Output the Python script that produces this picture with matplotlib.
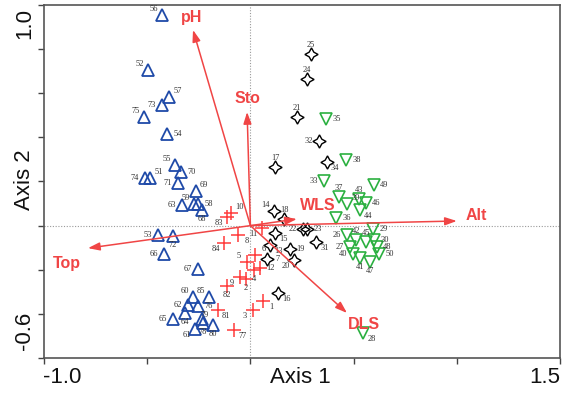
import matplotlib
matplotlib.use('Agg')
import matplotlib.pyplot as plt
from matplotlib.transforms import blended_transform_factory

# ---------------- data ----------------
blue_ids = [51, 52, 53, 54, 55, 56, 57, 58, 59, 60, 61, 62, 63, 64, 65, 66, 67, 68, 69, 70,
            71, 72, 73, 74, 75, 76, 78, 79, 80, 85]
blue_x = [-0.486, -0.496, -0.448, -0.404, -0.365, -0.428, -0.394, -0.254, -0.273, -0.278,
          -0.268, -0.302, -0.331, -0.317, -0.375, -0.419, -0.254, -0.234, -0.264, -0.336,
          -0.351, -0.375, -0.428, -0.511, -0.516, -0.254, -0.230, -0.234, -0.181, -0.201]
blue_y = [0.216, 0.705, -0.043, 0.415, 0.275, 0.955, 0.583, 0.098, 0.098, -0.324,
          -0.469, -0.360, 0.093, -0.396, -0.423, -0.129, -0.197, 0.071, 0.157, 0.243,
          0.193, -0.047, 0.547, 0.216, 0.492, -0.364, -0.442, -0.423, -0.451, -0.324]

red_ids = [1, 2, 3, 4, 5, 6, 8, 9, 10, 11, 12, 77, 81, 82, 83, 84]
red_x = [0.061, -0.021, 0.013, 0.017, -0.016, 0.022, -0.060, -0.050, -0.094, 0.056,
         0.047, -0.079, -0.157, -0.113, -0.113, -0.128]
red_y = [-0.342, -0.242, -0.383, -0.201, -0.165, -0.133, -0.043, -0.233, 0.057, -0.011,
         -0.192, -0.473, -0.383, -0.274, 0.039, -0.079]

black_ids = [7, 13, 14, 15, 16, 17, 18, 19, 20, 21, 22, 23, 24, 25, 31, 32, 34]
black_x = [0.080, 0.095, 0.114, 0.119, 0.134, 0.119, 0.163, 0.192, 0.211, 0.226,
           0.255, 0.274, 0.274, 0.294, 0.318, 0.332, 0.371]
black_y = [-0.151, -0.088, 0.066, -0.034, -0.306, 0.266, 0.030, -0.106, -0.156, 0.492,
           -0.015, -0.015, 0.665, 0.778, -0.074, 0.384, 0.288]

green_ids = [26, 27, 28, 29, 30, 33, 35, 36, 37, 38, 39, 40, 41, 42, 43, 44, 45, 46, 47,
             48, 49, 50]
green_x = [0.468, 0.483, 0.546, 0.594, 0.599, 0.357, 0.366, 0.415, 0.429, 0.463, 0.468,
           0.497, 0.531, 0.512, 0.526, 0.531, 0.560, 0.560, 0.579, 0.613, 0.599, 0.623]
green_y = [-0.043, -0.097, -0.487, -0.015, -0.065, 0.202, 0.483, 0.034, 0.130, 0.297,
           0.098, -0.129, -0.147, -0.065, 0.121, 0.071, -0.074, 0.102, -0.165, -0.097,
           0.184, -0.129]

env_names = ['pH', 'Sto', 'WLS', 'Alt', 'Top', 'DLS']
env_x = [-0.278, -0.016, 0.225, 1.000, -0.787, 0.468]
env_y = [0.887, 0.515, 0.030, 0.021, -0.102, -0.396]

# ---------------- style (label placement) ----------------
blue_pos = ['ur', 'ul', 'l', 'r', 'ul', 'ul', 'ur', 'r', 'ul', 'ul', 'bl', 'l', 'l', 'b',
            'l', 'l', 'l', 'b', 'ur', 'r', 'l', 'b', 'l', 'l', 'ul', 'r', 'b', 'u2', 'b', 'ul']
red_pos = ['br', 'b', 'bl', 'b', 'ul', 'ur', 'br', 'bl', 'ur', 'bl', 'r', 'br', 'br', 'b',
           'bl', 'bl']
black_pos = ['r', 'br', 'ul', 'br', 'br', 'u', 'u', 'r', 'bl', 'u', 'l', 'r', 'u', 'u',
             'br', 'l', 'br']
green_pos = ['l', 'l', 'br', 'r', 'r', 'l', 'r', 'r', 'u', 'r', 'ur', 'l', 'b', 'u', 'u',
             'br', 'u', 'r', 'b', 'r', 'r', 'r']
env_offsets = [(-1, 9), (0, 10), (15, 10), (14, 4), (-15, -11), (12, -8)]

OFF = {'u': (0, 6.5), 'b': (0, -6.5), 'l': (-7.5, 0), 'r': (7.5, 0),
       'ul': (-6, 4.5), 'ur': (6, 4.5), 'bl': (-6, -4.5), 'br': (6, -4.5),
       'u2': (1.5, 2.5)}

BLUE = '#1f4aa8'
GREEN = '#2bb040'
RED = '#ff3b3b'
ARROW = '#f04545'
TXT = '#333333'

fig = plt.figure(figsize=(5.72, 3.94), dpi=100)
ax = fig.add_axes([44 / 572, 1 - 358 / 394, 516 / 572, 353 / 394])
ax.set_xlim(-1.0, 1.5)
ax.set_ylim(-0.6, 1.0)

ax.axhline(0, color='#9a9a9a', lw=0.8, ls=(0, (1, 1.5)), zorder=0)
ax.axvline(0, color='#9a9a9a', lw=0.8, ls=(0, (1, 1.5)), zorder=0)


def draw_group(ids, xs, ys, pos, marker, color, ms, mew):
    assert len(ids) == len(xs) == len(ys) == len(pos)
    ax.plot(xs, ys, ls='none', marker=marker, ms=ms, mfc='none', mec=color, mew=mew,
            zorder=3)
    for i, x, y, p in zip(ids, xs, ys, pos):
        ax.annotate(str(i), (x, y), xytext=OFF[p], textcoords='offset points',
                    ha='center', va='center', fontsize=6, color=TXT,
                    family='Liberation Serif', zorder=4)


draw_group(blue_ids, blue_x, blue_y, blue_pos, '^', BLUE, 8, 1.3)
draw_group(green_ids, green_x, green_y, green_pos, 'v', GREEN, 8, 1.2)
draw_group(red_ids, red_x, red_y, red_pos, '+', RED, 10, 1.1)
draw_group(black_ids, black_x, black_y, black_pos, (4, 1, 0), 'black', 9.5, 1.0)

for name, x, y, off in zip(env_names, env_x, env_y, env_offsets):
    ax.annotate('', xy=(x, y), xytext=(0, 0),
                arrowprops=dict(arrowstyle='-|>,head_length=0.7,head_width=0.24',
                                color=ARROW, lw=1.1, shrinkA=0, shrinkB=0), zorder=5)
    ax.annotate(name, (x, y), xytext=off, textcoords='offset points', ha='center',
                va='center', fontsize=11.5, fontweight='bold', color=ARROW,
                family='Liberation Sans', zorder=6)

ax.set_xticks([-1.0, -0.5, 0.0, 0.5, 1.0, 1.5])
ax.set_yticks([-0.6, -0.4, -0.2, 0.0, 0.2, 0.4, 0.6, 0.8, 1.0])
ax.set_xticklabels([])
ax.set_yticklabels([])
ax.tick_params(direction='out', length=4, width=1.0, color='#444444')
for s in ax.spines.values():
    s.set_color('#555555')
    s.set_linewidth(1.2)

bx = blended_transform_factory(ax.transData, ax.transAxes)
by = blended_transform_factory(ax.transAxes, ax.transData)
font = dict(family='Liberation Sans', fontsize=16, color='#111111')
ax.text(-0.912, -0.054, '-1.0', transform=bx, ha='center', va='center', **font)
ax.text(1.427, -0.054, '1.5', transform=bx, ha='center', va='center', **font)
ax.text(0.24, -0.054, 'Axis 1', transform=bx, ha='center', va='center', **font)
ax.text(-0.038, 0.916, '1.0', transform=by, ha='center', va='center', rotation=90, **font)
ax.text(-0.038, -0.475, '-0.6', transform=by, ha='center', va='center', rotation=90, **font)
ax.text(-0.038, 0.207, 'Axis 2', transform=by, ha='center', va='center', rotation=90, **font)

fig.savefig('out.png', dpi=100)
